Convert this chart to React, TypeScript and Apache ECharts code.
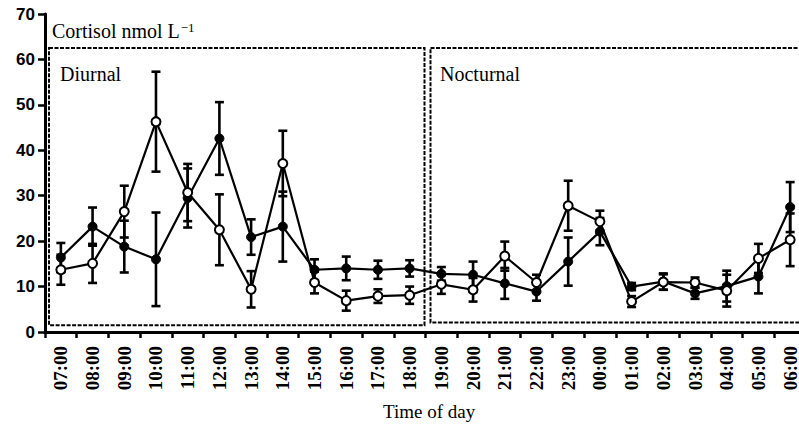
import React, { useEffect, useRef } from "react";
import * as echarts from "echarts";

const times = [
  "07:00", "08:00", "09:00", "10:00", "11:00", "12:00", "13:00", "14:00", "15:00", "16:00", "17:00", "18:00",
  "19:00", "20:00", "21:00", "22:00", "23:00", "00:00", "01:00", "02:00", "03:00", "04:00", "05:00", "06:00",
];
const filledMean = [16.4, 23.2, 18.8, 16.0, 29.5, 42.6, 20.9, 23.2, 13.7, 14.0, 13.7, 14.0, 12.8, 12.6, 10.7, 8.9, 15.5, 22.1, 10.0, 11.1, 8.5, 10.1, 12.2, 27.5];
const filledErr = [3.2, 4.2, 5.7, 10.3, 6.5, 8.0, 3.9, 7.7, 2.3, 2.6, 2.0, 1.8, 1.5, 2.9, 3.4, 2.0, 5.3, 3.0, 0.8, 1.8, 1.2, 3.4, 3.7, 5.5];
const openMean = [13.7, 15.1, 26.5, 46.3, 30.7, 22.5, 9.4, 37.1, 10.9, 6.9, 7.9, 8.1, 10.5, 9.3, 16.7, 10.9, 27.8, 24.3, 6.7, 11.0, 10.9, 9.1, 16.2, 20.3];
const openErr = [3.3, 4.3, 5.7, 11.0, 6.3, 7.8, 4.0, 7.2, 2.4, 2.2, 1.5, 1.9, 2.1, 2.6, 3.2, 1.7, 5.5, 2.4, 1.2, 1.7, 1.1, 3.5, 3.2, 5.8];
const yTicks = [0, 10, 20, 30, 40, 50, 60, 70];
const periods = [
  { name: "Diurnal", from: "07:00", to: "18:00" },
  { name: "Nocturnal", from: "19:00", to: "06:00" },
];

export default function App() {
  const ref = useRef<HTMLDivElement>(null);
  useEffect(() => {
    if (!ref.current) return;
    const chart = echarts.init(ref.current, null, { renderer: "svg" });

    const errData = (means: number[], errs: number[]) =>
      means.map((m, i) => [i, m, errs[i]]);

    const errorRender = (params: any, api: any) => {
      const x = api.value(0);
      const m = api.value(1);
      const e = api.value(2);
      const hi = api.coord([x, m + e]);
      const lo = api.coord([x, m - e]);
      const w = 4.5;
      const st = { stroke: "#000", lineWidth: 2.6 };
      return {
        type: "group",
        children: [
          { type: "line", shape: { x1: hi[0], y1: hi[1], x2: lo[0], y2: lo[1] }, style: st },
          { type: "line", shape: { x1: hi[0] - w, y1: hi[1], x2: hi[0] + w, y2: hi[1] }, style: st },
          { type: "line", shape: { x1: lo[0] - w, y1: lo[1], x2: lo[0] + w, y2: lo[1] }, style: st },
        ],
      };
    };

    const boxData = periods.map((p, k) => [times.indexOf(p.from), times.indexOf(p.to), k]);
    const boxRender = (params: any, api: any) => {
      const a = api.value(0);
      const b = api.value(1);
      const k = api.value(2);
      const half = api.size([1, 0])[0] / 2;
      const topV = 62.5;
      const botV = k === 0 ? 1.5 : 2.1;
      const p1 = api.coord([a, topV]);
      const p2 = api.coord([b, botV]);
      const x1 = p1[0] - half + (k === 0 ? 4 : 5);
      const x2 = p2[0] + half + (k === 0 ? -1 : 10);
      return {
        type: "rect",
        shape: { x: x1, y: p1[1], width: x2 - x1, height: p2[1] - p1[1] },
        style: { fill: "none", stroke: "#000", lineWidth: 2, lineDash: [4, 1.5] },
      };
    };

    chart.setOption({
      animation: false,
      backgroundColor: "#fff",
      grid: { left: 45, top: 14, width: 761, height: 318, containLabel: false, outerBoundsMode: "none" },
      xAxis: {
        type: "category",
        data: times,
        boundaryGap: true,
        axisLine: { lineStyle: { color: "#000", width: 3 } },
        axisTick: { show: true, interval: 0, length: 6, lineStyle: { color: "#000", width: 2.5 } },
        axisLabel: {
          interval: 0,
          rotate: 90,
          margin: 14,
          fontFamily: "Liberation Serif",
          fontWeight: "bold",
          fontSize: 19,
          color: "#000",
        },
        splitLine: { show: false },
      },
      yAxis: {
        type: "value",
        min: yTicks[0],
        max: yTicks[yTicks.length - 1],
        interval: 10,
        axisLine: { show: true, lineStyle: { color: "#000", width: 3 } },
        axisTick: { show: true, length: 7, lineStyle: { color: "#000", width: 2.5 } },
        axisLabel: {
          margin: 10,
          fontFamily: "Liberation Sans",
          fontWeight: "bold",
          fontSize: 17,
          color: "#000",
        },
        splitLine: { show: false },
      },
      graphic: [
        {
          type: "text",
          x: 52,
          y: 31,
          style: {
            text: "{a|Cortisol nmol L}{b|\u22121}",
            verticalAlign: "middle",
            rich: {
              a: { fontFamily: "Liberation Serif", fontSize: 20, fill: "#000" },
              b: { fontFamily: "Liberation Serif", fontSize: 13, fill: "#000", verticalAlign: "top", padding: [0, 0, 0, 1] },
            },
          },
        },
        {
          type: "text",
          x: 60,
          y: 74,
          style: { text: periods[0].name, fontFamily: "Liberation Serif", fontSize: 20, fill: "#000", verticalAlign: "middle" },
        },
        {
          type: "text",
          x: 440,
          y: 74,
          style: { text: periods[1].name, fontFamily: "Liberation Serif", fontSize: 20, fill: "#000", verticalAlign: "middle" },
        },
        {
          type: "text",
          x: 383,
          y: 411,
          style: { text: "Time of day", fontFamily: "Liberation Serif", fontSize: 19, fill: "#000", verticalAlign: "middle" },
        },
      ],
      series: [
        {
          type: "custom",
          name: "periods",
          renderItem: boxRender,
          data: boxData,
          encode: { x: 0, y: 2 },
          z: 0,
          silent: true,
          clip: false,
        },
        {
          type: "custom",
          name: "filledErr",
          renderItem: errorRender,
          data: errData(filledMean, filledErr),
          encode: { x: 0, y: 1 },
          z: 1,
        },
        {
          type: "custom",
          name: "openErr",
          renderItem: errorRender,
          data: errData(openMean, openErr),
          encode: { x: 0, y: 1 },
          z: 1,
        },
        {
          type: "line",
          name: "filled",
          data: filledMean,
          symbol: "circle",
          symbolSize: 9,
          lineStyle: { color: "#000", width: 2.2 },
          itemStyle: { color: "#000", borderColor: "#000", borderWidth: 1 },
          z: 3,
        },
        {
          type: "line",
          name: "open",
          data: openMean,
          symbol: "circle",
          symbolSize: 9,
          lineStyle: { color: "#000", width: 2.2 },
          itemStyle: { color: "#fff", borderColor: "#000", borderWidth: 2 },
          z: 4,
        },
      ],
    });
    return () => chart.dispose();
  }, []);
  return (
    <div
      ref={ref}
      style={{ position: "fixed", left: 0, top: 0, width: 799, height: 425, background: "#fff" }}
    />
  );
}
